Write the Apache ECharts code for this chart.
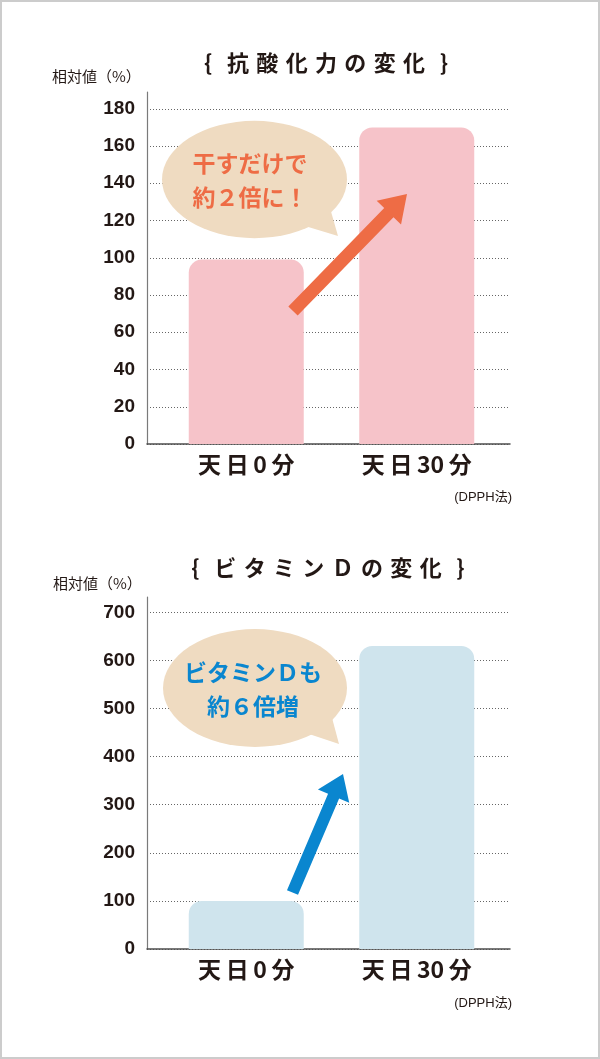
<!DOCTYPE html>
<html>
<head>
<meta charset="utf-8">
<script src="https://cdn.jsdelivr.net/npm/echarts@6/dist/echarts.min.js"></script>
<style>
html,body{margin:0;padding:0;background:#fff;}
#wrap{position:relative;width:600px;height:1059px;}
#chart{width:600px;height:1059px;}
#frame{position:absolute;left:0;top:0;width:600px;height:1059px;box-sizing:border-box;border:2px solid #cccccc;pointer-events:none;}
</style>
</head>
<body>
<div id="wrap"><div id="chart"></div><div id="frame"></div></div>
<script>
// ---- data ----
const categories = ['天日0分', '天日30分'];
const antioxValues = [99, 170];      // 抗酸化力 相対値(%)
const vitaminDValues = [100, 630];   // ビタミンD 相対値(%)
const antioxTitle = '{\u2004\u2004抗\u2004酸\u2004化\u2004力\u2004の\u2004変\u2004化\u2004\u2004}';
const vitaminDTitle = '{\u2004\u2004ビ\u2004タ\u2004ミ\u2004ン\u2004Ｄ\u2004の\u2004変\u2004化\u2004\u2004}';
const yAxisName = '相対値（%）';
const methodNote = '(DPPH法)';
const antioxBubble = ['干すだけで', '約２倍に！'];
const vitaminDBubble = ['ビタミンＤも', '約６倍増'];

const TXT = '#231815';
const CJK = '"Noto Sans CJK JP", sans-serif';
const NUM = '"Liberation Sans", "Noto Sans CJK JP", sans-serif';

const chart = echarts.init(document.getElementById('chart'), null, {renderer: 'canvas'});

function axisGrid(top, bottom) {
  return {left: 147, right: 90, top: top, bottom: bottom};
}
function barGrid(top, bottom) {
  return {left: 161, right: 98, top: top, bottom: bottom};
}
function valueAxis(gridIndex, max, interval, show) {
  return {
    type: 'value', gridIndex: gridIndex, min: 0, max: max, interval: interval,
    show: show,
    axisLine: {show: true, lineStyle: {color: '#7a7a7a', width: 1.2}},
    axisTick: {show: false},
    axisLabel: {
      show: show, margin: 12, color: TXT, fontSize: 19, fontWeight: 'bold', fontFamily: NUM,
      showMaxLabel: false,
      formatter: v => (v % interval === 0 ? String(v) : '')
    },
    splitLine: {show: show, showMaxLine: false, lineStyle: {color: '#666666', width: 1, type: [1, 2]}}
  };
}
function axisX(gridIndex) {
  return {
    type: 'category', gridIndex: gridIndex, data: categories,
    axisLine: {show: true, lineStyle: {color: '#4d4d4d', width: 1.5}},
    axisTick: {show: false}, axisLabel: {show: false}, splitLine: {show: false}
  };
}
function barX(gridIndex) {
  return {
    type: 'category', gridIndex: gridIndex, data: categories,
    axisLine: {show: false}, axisTick: {show: false},
    axisLabel: {
      show: true, margin: 9, color: TXT, fontSize: 23, fontWeight: 'bold', fontFamily: CJK,
      formatter: v => v.replace(/(\d+)/, '\u2009$1\u2009').replace(/^(.)(.)/, '$1\u2009$2')
    }
  };
}

function arrowPoints(x1, y1, x2, y2, w, hl, hw) {
  const dx = x2 - x1, dy = y2 - y1, L = Math.hypot(dx, dy);
  const ux = dx / L, uy = dy / L, px = -uy, py = ux;
  const bx = x2 - ux * hl, by = y2 - uy * hl;
  return [
    [x1 + px * w / 2, y1 + py * w / 2],
    [bx + px * w / 2, by + py * w / 2],
    [bx + px * hw / 2, by + py * hw / 2],
    [x2, y2],
    [bx - px * hw / 2, by - py * hw / 2],
    [bx - px * w / 2, by - py * w / 2],
    [x1 - px * w / 2, y1 - py * w / 2]
  ];
}

function bubble(cx, cy, rx, ry, tail, lines, color, y1, y2, tx) {
  return [
    {type: 'polygon', z: 10, shape: {points: tail}, style: {fill: '#efdbc1'}},
    {type: 'circle', z: 10, x: cx, y: cy, scaleY: ry / rx, shape: {cx: 0, cy: 0, r: rx}, style: {fill: '#efdbc1'}},
    {type: 'text', z: 11, x: tx, y: y1, style: {text: lines[0], fill: color, font: 'bold 23px ' + CJK, align: 'center', verticalAlign: 'middle'}},
    {type: 'text', z: 11, x: tx, y: y2, style: {text: lines[1], fill: color, font: 'bold 23px ' + CJK, align: 'center', verticalAlign: 'middle'}}
  ];
}

const graphics = [
  {type: 'text', x: 326, y: 63, style: {text: antioxTitle, fill: TXT, font: 'bold 22px ' + CJK, align: 'center', verticalAlign: 'middle'}},
  {type: 'text', x: 328, y: 568, style: {text: vitaminDTitle, fill: TXT, font: 'bold 22px ' + CJK, align: 'center', verticalAlign: 'middle'}},
  {type: 'text', x: 52, y: 76, style: {text: yAxisName, fill: TXT, font: '15px ' + CJK, align: 'left', verticalAlign: 'middle'}},
  {type: 'text', x: 53, y: 583, style: {text: yAxisName, fill: TXT, font: '15px ' + CJK, align: 'left', verticalAlign: 'middle'}},
  {type: 'text', x: 512, y: 497, style: {text: methodNote, fill: TXT, font: '13px ' + NUM, align: 'right', verticalAlign: 'middle'}},
  {type: 'text', x: 512, y: 1003, style: {text: methodNote, fill: TXT, font: '13px ' + NUM, align: 'right', verticalAlign: 'middle'}},
  ...bubble(254.5, 179.5, 92.5, 58.7, [[305, 226], [338, 236], [330, 208]], antioxBubble, '#ee6c45', 163, 197, 250),
  ...bubble(255, 688, 92, 59, [[306, 733], [339, 744], [331, 714]], vitaminDBubble, '#0a86cf', 672, 706, 253),
  {type: 'polygon', z: 12, shape: {points: arrowPoints(293, 311, 407, 194, 13, 26, 34)}, style: {fill: '#ee6c45'}},
  {type: 'polygon', z: 12, shape: {points: arrowPoints(292.5, 892.5, 343, 774, 12, 24, 34)}, style: {fill: '#0a86cf'}}
];

const option = {
  backgroundColor: '#ffffff',
  animation: false,
  grid: [axisGrid(92, 615), barGrid(92, 615), axisGrid(597, 110), barGrid(597, 110)],
  xAxis: [axisX(0), barX(1), axisX(2), barX(3)],
  yAxis: [valueAxis(0, 189, 20, true), valueAxis(1, 189, 20, false),
          valueAxis(2, 732, 100, true), valueAxis(3, 732, 100, false)],
  series: [
    {type: 'bar', xAxisIndex: 1, yAxisIndex: 1, data: antioxValues, barWidth: 115,
     itemStyle: {color: '#f6c3c9', borderRadius: [13, 13, 0, 0]}, z: 3},
    {type: 'bar', xAxisIndex: 3, yAxisIndex: 3, data: vitaminDValues, barWidth: 115,
     itemStyle: {color: '#cfe4ed', borderRadius: [13, 13, 0, 0]}, z: 3}
  ],
  graphic: graphics
};
chart.setOption(option);
</script>
</body>
</html>
